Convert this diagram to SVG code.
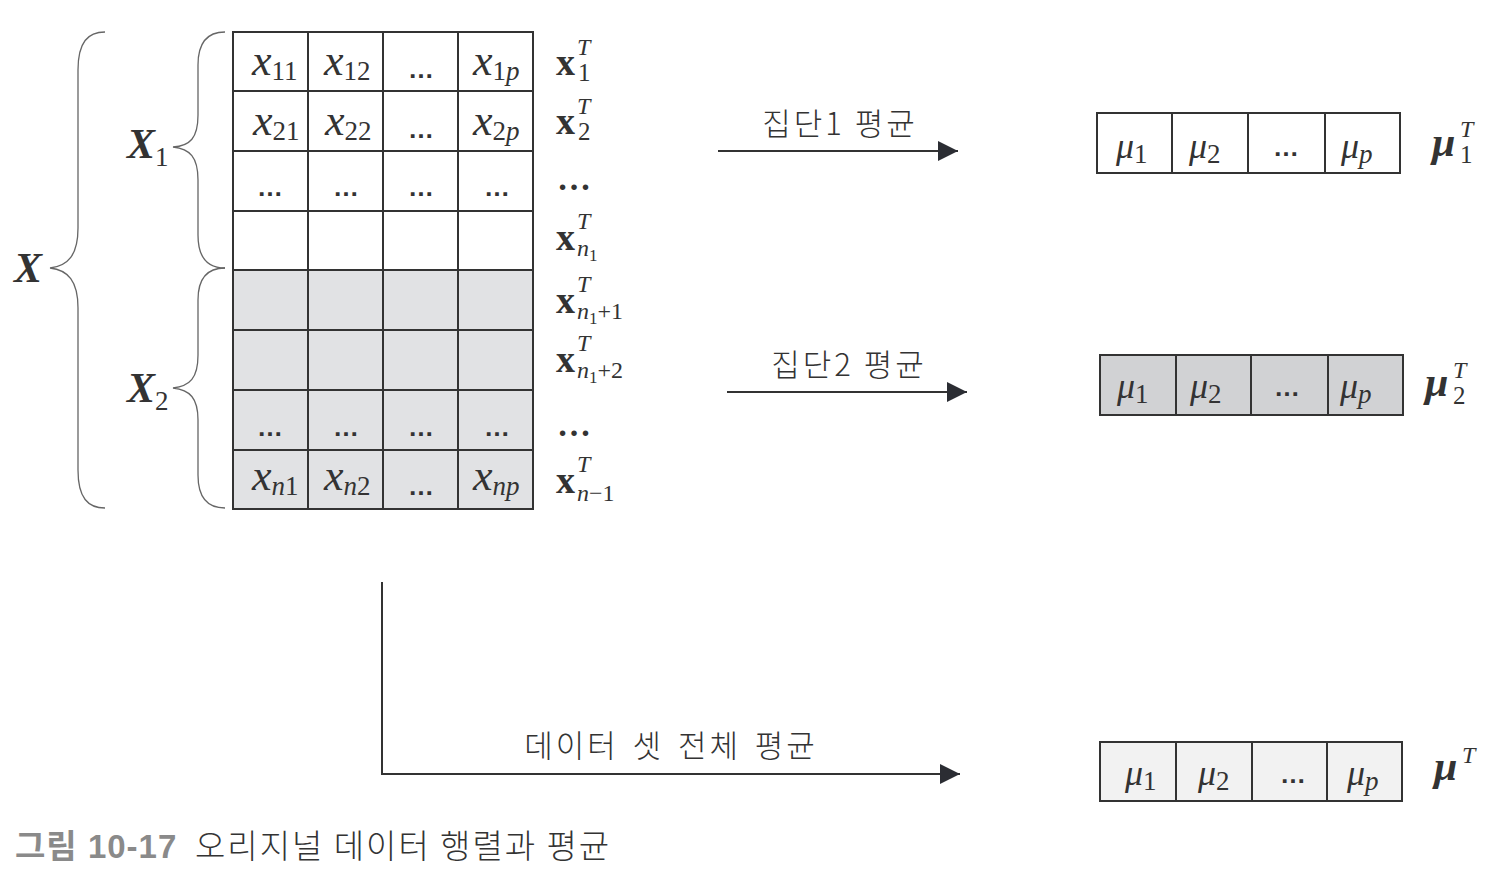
<svg xmlns="http://www.w3.org/2000/svg" width="1498" height="884" viewBox="0 0 1498 884">
<defs>
<style>
.cell{stroke:#333;stroke-width:2}
.w{fill:#fff}.g{fill:#e1e2e4}.g2{fill:#d1d2d4}.g3{fill:#f2f2f2}
.m{font-family:"Liberation Serif",serif;font-style:italic;font-size:44px;fill:#333}
.s{font-style:normal;font-size:27px}
.si{font-style:italic;font-size:27px}
.b{font-family:"Liberation Serif",serif;font-weight:bold;font-size:38px;fill:#333}
.t{font-family:"Liberation Serif",serif;font-style:italic;font-weight:normal;font-size:24px;fill:#333}
.tn{font-family:"Liberation Serif",serif;font-style:normal;font-weight:normal;font-size:25px;fill:#333}
.d{font-family:"Liberation Sans",sans-serif;font-size:26px;font-weight:bold;fill:#333;text-anchor:middle}
.dd{font-family:"Liberation Serif",serif;font-size:34px;font-weight:bold;fill:#333;text-anchor:middle}
.k{font-family:"Noto Sans CJK KR",sans-serif;font-weight:300;font-size:31px;fill:#333;text-anchor:middle;letter-spacing:3px}
.brace{fill:none;stroke:#666;stroke-width:1.3}
.conn{fill:none;stroke:#333;stroke-width:2}
.mu{font-family:"Liberation Serif",serif;font-style:italic;font-size:36px;fill:#333}
.bm{font-family:"Liberation Serif",serif;font-style:italic;font-weight:bold;font-size:42px;fill:#333}
</style>
<marker id="ah" viewBox="0 0 20 20" refX="20" refY="10" markerWidth="20" markerHeight="20" markerUnits="userSpaceOnUse" orient="auto">
<path d="M0,0 L20,10 L0,20 Z" fill="#2b2d33"/>
</marker>
</defs>
<rect width="1498" height="884" fill="#fff"/>

<g id="braces">
<path class="brace" d="M105,32 C88,32 78,42 78,70 L78,228 C78,255 68,266 50,268 C68,270 78,281 78,308 L78,470 C78,498 88,508 105,508"/>
<path class="brace" d="M225,32 C208,32 198,42 198,65 L198,115 C198,138 190,146 173,147 C190,149 198,157 198,180 L198,235 C198,258 208,268 225,268"/>
<path class="brace" d="M225,268 C208,268 198,278 198,300 L198,355 C198,378 190,386 173,388 C190,390 198,398 198,420 L198,475 C198,498 208,508 225,508"/>
</g>

<g id="labels-X">
<text class="bm" x="14" y="282" font-size="44">X</text>
<text class="bm" x="127" y="158" font-size="40">X<tspan class="s" font-weight="normal" dy="8">1</tspan></text>
<text class="bm" x="127" y="402" font-size="40">X<tspan class="s" font-weight="normal" dy="8">2</tspan></text>
</g>

<g id="matrix">
<g class="cell w">
<rect x="233" y="32" width="75" height="59"/><rect x="308" y="32" width="75" height="59"/><rect x="383" y="32" width="75" height="59"/><rect x="458" y="32" width="75" height="59"/>
<rect x="233" y="91" width="75" height="60"/><rect x="308" y="91" width="75" height="60"/><rect x="383" y="91" width="75" height="60"/><rect x="458" y="91" width="75" height="60"/>
<rect x="233" y="151" width="75" height="60"/><rect x="308" y="151" width="75" height="60"/><rect x="383" y="151" width="75" height="60"/><rect x="458" y="151" width="75" height="60"/>
<rect x="233" y="211" width="75" height="59"/><rect x="308" y="211" width="75" height="59"/><rect x="383" y="211" width="75" height="59"/><rect x="458" y="211" width="75" height="59"/>
</g>
<g class="cell g">
<rect x="233" y="270" width="75" height="60"/><rect x="308" y="270" width="75" height="60"/><rect x="383" y="270" width="75" height="60"/><rect x="458" y="270" width="75" height="60"/>
<rect x="233" y="330" width="75" height="60"/><rect x="308" y="330" width="75" height="60"/><rect x="383" y="330" width="75" height="60"/><rect x="458" y="330" width="75" height="60"/>
<rect x="233" y="390" width="75" height="60"/><rect x="308" y="390" width="75" height="60"/><rect x="383" y="390" width="75" height="60"/><rect x="458" y="390" width="75" height="60"/>
<rect x="233" y="450" width="75" height="59"/><rect x="308" y="450" width="75" height="59"/><rect x="383" y="450" width="75" height="59"/><rect x="458" y="450" width="75" height="59"/>
</g>
<text class="m" x="252" y="75">x<tspan class="s" dy="5">11</tspan></text>
<text class="m" x="324" y="75">x<tspan class="s" dy="5">12</tspan></text>
<text class="d" x="421" y="78">…</text>
<text class="m" x="473" y="75">x<tspan class="s" dy="5">1</tspan><tspan class="si">p</tspan></text>
<text class="m" x="253" y="135">x<tspan class="s" dy="5">21</tspan></text>
<text class="m" x="325" y="135">x<tspan class="s" dy="5">22</tspan></text>
<text class="d" x="421" y="138">…</text>
<text class="m" x="473" y="135">x<tspan class="s" dy="5">2</tspan><tspan class="si">p</tspan></text>
<text class="d" x="270" y="196">…</text><text class="d" x="346" y="196">…</text><text class="d" x="421" y="196">…</text><text class="d" x="497" y="196">…</text>
<text class="d" x="270" y="436">…</text><text class="d" x="346" y="436">…</text><text class="d" x="421" y="436">…</text><text class="d" x="497" y="436">…</text>
<text class="m" x="252" y="490">x<tspan class="si" dy="5">n</tspan><tspan class="s">1</tspan></text>
<text class="m" x="324" y="490">x<tspan class="si" dy="5">n</tspan><tspan class="s">2</tspan></text>
<text class="d" x="421" y="495">…</text>
<text class="m" x="473" y="490">x<tspan class="si" dy="5">np</tspan></text>
</g>

<g id="row-labels">
<text class="b" x="556" y="75">x</text><text class="t" x="577" y="55">T</text><text class="tn" x="578" y="81">1</text>
<text class="b" x="556" y="134">x</text><text class="t" x="577" y="114">T</text><text class="tn" x="578" y="140">2</text>
<text class="dd" x="574" y="190">…</text>
<text class="b" x="556" y="250">x</text><text class="t" x="577" y="229">T</text><text class="t" x="577" y="256">n<tspan font-style="normal" font-size="17" dy="5">1</tspan></text>
<text class="b" x="556" y="313">x</text><text class="t" x="577" y="292">T</text><text class="t" x="577" y="319">n<tspan font-style="normal" font-size="17" dy="5">1</tspan><tspan font-style="normal" dy="-5">+1</tspan></text>
<text class="b" x="556" y="372">x</text><text class="t" x="577" y="351">T</text><text class="t" x="577" y="378">n<tspan font-style="normal" font-size="17" dy="5">1</tspan><tspan font-style="normal" dy="-5">+2</tspan></text>
<text class="dd" x="574" y="436">…</text>
<text class="b" x="556" y="493">x</text><text class="t" x="577" y="472">T</text><text class="t" x="577" y="501">n<tspan font-style="normal">−1</tspan></text>
</g>

<g id="connectors">
<line class="conn" x1="718" y1="151" x2="958" y2="151" marker-end="url(#ah)"/>
<line class="conn" x1="727" y1="392" x2="967" y2="392" marker-end="url(#ah)"/>
<path class="conn" d="M382,582 L382,774 L960,774" marker-end="url(#ah)"/>
<text class="k" x="840" y="135">집단1 평균</text>
<text class="k" x="849" y="376">집단2 평균</text>
<text class="k" x="671" y="757" font-size="33" letter-spacing="4" word-spacing="4">데이터 셋 전체 평균</text>
</g>

<g id="mean1">
<g class="cell w">
<rect x="1097" y="113" width="75" height="60"/><rect x="1172" y="113" width="76" height="60"/><rect x="1248" y="113" width="77" height="60"/><rect x="1325" y="113" width="75" height="60"/>
</g>
<text class="mu" x="1116" y="158">μ<tspan class="s" dy="5">1</tspan></text>
<text class="mu" x="1189" y="158">μ<tspan class="s" dy="5">2</tspan></text>
<text class="d" x="1286" y="156">…</text>
<text class="mu" x="1341" y="158">μ<tspan class="si" dy="5">p</tspan></text>
<text class="bm" x="1432" y="156">μ</text><text class="t" x="1460" y="137">T</text><text class="tn" x="1460" y="163">1</text>
</g>

<g id="mean2">
<g class="cell g2">
<rect x="1100" y="355" width="76" height="60"/><rect x="1176" y="355" width="75" height="60"/><rect x="1251" y="355" width="77" height="60"/><rect x="1328" y="355" width="75" height="60"/>
</g>
<text class="mu" x="1117" y="398">μ<tspan class="s" dy="5">1</tspan></text>
<text class="mu" x="1190" y="398">μ<tspan class="s" dy="5">2</tspan></text>
<text class="d" x="1287" y="396">…</text>
<text class="mu" x="1340" y="398">μ<tspan class="si" dy="5">p</tspan></text>
<text class="bm" x="1425" y="396">μ</text><text class="t" x="1453" y="378">T</text><text class="tn" x="1453" y="404">2</text>
</g>

<g id="mean-all">
<g class="cell g3">
<rect x="1100" y="742" width="76" height="59"/><rect x="1176" y="742" width="76" height="59"/><rect x="1252" y="742" width="75" height="59"/><rect x="1327" y="742" width="75" height="59"/>
</g>
<text class="mu" x="1125" y="785">μ<tspan class="s" dy="5">1</tspan></text>
<text class="mu" x="1198" y="785">μ<tspan class="s" dy="5">2</tspan></text>
<text class="d" x="1293" y="783">…</text>
<text class="mu" x="1347" y="785">μ<tspan class="si" dy="5">p</tspan></text>
<text class="bm" x="1434" y="780">μ</text><text class="t" x="1462" y="763">T</text>
</g>

<g id="caption">
<text x="15" y="858" font-family="Liberation Sans,'Noto Sans CJK KR',sans-serif" font-weight="bold" font-size="33" fill="#8a8a8a" letter-spacing="1">그림 10-17</text>
<text x="195" y="858" font-family="'Noto Sans CJK KR',sans-serif" font-weight="300" font-size="33" fill="#333" letter-spacing="2">오리지널 데이터 행렬과 평균</text>
</g>
</svg>
